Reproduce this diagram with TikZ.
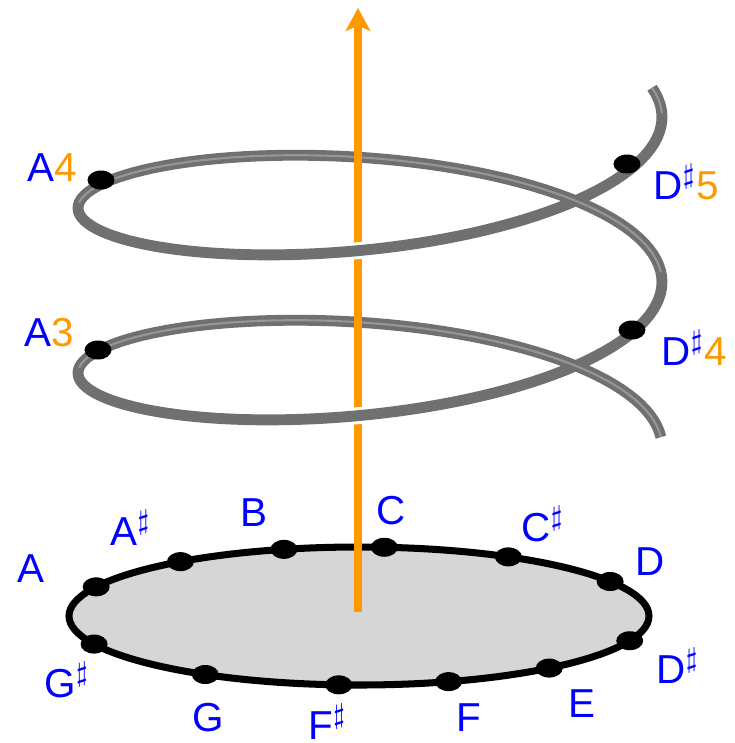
\documentclass[tikz,border=0pt]{standalone}
\usepackage{fontspec}
\setmainfont{Liberation Sans}
\usetikzlibrary{arrows.meta, positioning, shapes.geometric}
\definecolor{noteblue}{RGB}{0,0,255}
\definecolor{octorange}{RGB}{255,153,0}
\definecolor{tubegray}{RGB}{112,112,112}
\definecolor{tubelight}{RGB}{150,150,150}
\definecolor{discgray}{RGB}{214,214,214}

\begin{document}
\begin{tikzpicture}[x=0.1mm, y=-0.1mm, dot/.style={shape=ellipse, fill=black, inner sep=0pt, minimum width=2.7mm, minimum height=1.9mm}, note/.style={text=noteblue, font=\fontsize{11.5}{13}\selectfont, inner sep=0pt, anchor=base west}, tube/.style={tubegray, line width=3.1pt}, axis/.style={octorange, line width=2.3pt}]

\useasboundingbox (0,0) rectangle (734,743);

% pitch-class circle
\draw[line width=2pt, fill=discgray] (359,616) ellipse [x radius=290, y radius=69];
\foreach \ang/\nm in {155/A, 128/As, 105/B, 85/C, 59/Cs, 30/D, -21/Ds, -49/E, -72/F, -94/Fs, -122/G, -156/Gs}
  \node[dot] (\nm) at ({359+290*cos(\ang)},{616-69*sin(\ang)}) {};

\node[note] (lbA) at (17,582) {A};
\node[note] (lbAs) at (110,545) {A$^\sharp$};
\node[note] (lbB) at (240,526) {B};
\node[note] (lbC) at (376,524) {C};
\node[note] (lbCs) at (521,541) {C$^\sharp$};
\node[note] (lbD) at (635,575) {D};
\node[note] (lbDs) at (656,683) {D$^\sharp$};
\node[note] (lbE) at (568,717) {E};
\node[note] (lbF) at (456,731) {F};
\node[note] (lbFs) at (308,739) {F$^\sharp$};
\node[note] (lbG) at (192,731) {G};
\node[note] (lbGs) at (44,697) {G$^\sharp$};

% axis, then the helix over it
\coordinate (base) at (358,612);
\coordinate (tip) at (358,8);
\draw[axis, -{Stealth[length=6.5pt, width=7pt, inset=1.5pt]}] (base) -- (tip);

\foreach \lo/\hi in {255/285, -105/-75}
  \draw[white, line width=4.8pt] plot[domain=\lo:\hi, samples=20, variable=\t] ({370+292*cos(\t)},{286.25-0.458333*\t-87*sin(\t)-4.25*cos(\t)});
\draw[tube] plot[domain=-355:375, samples=260, variable=\t] ({370+292*cos(\t)},{286.25-0.458333*\t-87*sin(\t)-4.25*cos(\t)});
\foreach \lo/\hi in {-355/-185, 5/175, 362/375}
  \draw[tubelight, line width=0.6pt] plot[domain=\lo:\hi, samples=60, variable=\t] ({370+292*cos(\t)},{286.25-0.458333*\t-87*sin(\t)-4.25*cos(\t)});

% axis stays in front of the back strands
\draw[axis] (358,140) -- (358,176);
\draw[axis] (358,305) -- (358,341);

\node[dot] (A4) at (101,180) {};
\node[dot] (A3) at (98,350) {};
\node[dot] (Ds5) at (627,164) {};
\node[dot] (Ds4) at (632,330) {};

\node[note] (lbA4) at (27,181) {A\textcolor{octorange}{4}};
\node[note] (lbA3) at (24,346) {A\textcolor{octorange}{3}};
\node[note] (lbDs5) at (653,199) {D$^\sharp$\textcolor{octorange}{5}};
\node[note] (lbDs4) at (661,365) {D$^\sharp$\textcolor{octorange}{4}};

\end{tikzpicture}
\end{document}
